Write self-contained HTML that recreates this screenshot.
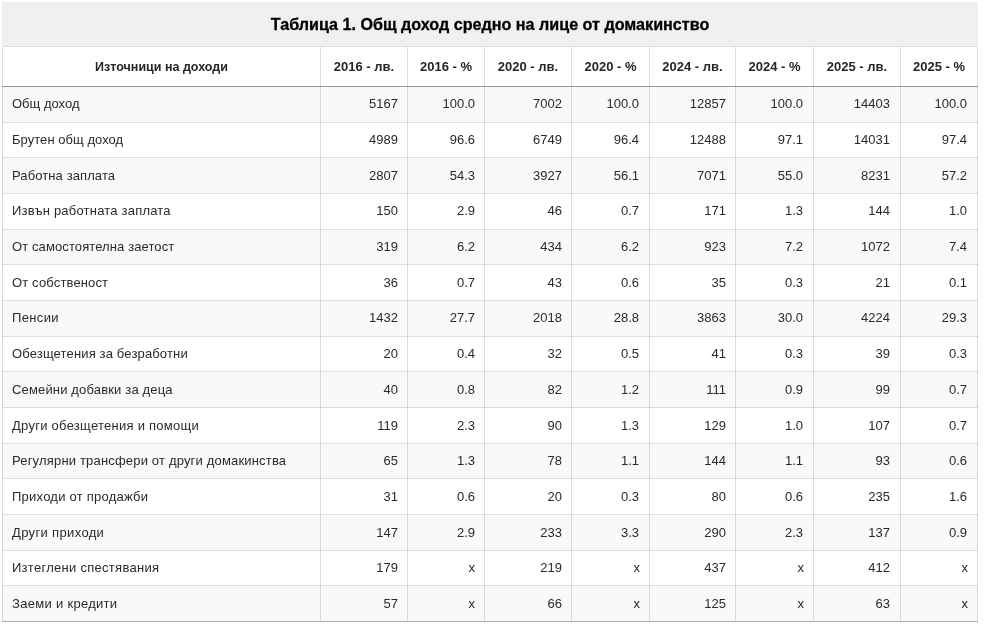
<!DOCTYPE html><html><head><meta charset="utf-8"><title>Таблица 1</title><style>
html,body{margin:0;padding:0;background:#fff;width:984px;height:626px;overflow:hidden;}
body{position:relative;font-family:"Liberation Sans",sans-serif;}
.a{position:absolute;}
.t{position:absolute;white-space:nowrap;line-height:20px;height:20px;will-change:transform;}
.b{font-size:13px;color:#2a2a2a;}
.h{font-size:13px;color:#262626;font-weight:bold;}
.ti{font-size:16.15px;color:#000000;font-weight:bold;-webkit-text-stroke:0.3px #000000;}
.r{text-align:right;}.c{text-align:center;}
</style></head><body>
<div class="a" style="left:2px;top:2px;width:976px;height:44px;background:#f0f0f0"></div>
<div class="a" style="left:2px;top:87px;width:976px;height:35px;background:#f9f9f9"></div>
<div class="a" style="left:2px;top:158px;width:976px;height:35px;background:#f9f9f9"></div>
<div class="a" style="left:2px;top:230px;width:976px;height:34px;background:#f9f9f9"></div>
<div class="a" style="left:2px;top:301px;width:976px;height:35px;background:#f9f9f9"></div>
<div class="a" style="left:2px;top:372px;width:976px;height:35px;background:#f9f9f9"></div>
<div class="a" style="left:2px;top:444px;width:976px;height:34px;background:#f9f9f9"></div>
<div class="a" style="left:2px;top:515px;width:976px;height:35px;background:#f9f9f9"></div>
<div class="a" style="left:2px;top:586px;width:976px;height:35px;background:#f9f9f9"></div>
<div class="a" style="left:2px;top:47px;width:1px;height:574px;background:rgba(0,0,0,0.133)"></div>
<div class="a" style="left:320px;top:47px;width:1px;height:574px;background:rgba(0,0,0,0.133)"></div>
<div class="a" style="left:407px;top:47px;width:1px;height:574px;background:rgba(0,0,0,0.133)"></div>
<div class="a" style="left:484px;top:47px;width:1px;height:574px;background:rgba(0,0,0,0.133)"></div>
<div class="a" style="left:571px;top:47px;width:1px;height:574px;background:rgba(0,0,0,0.133)"></div>
<div class="a" style="left:649px;top:47px;width:1px;height:574px;background:rgba(0,0,0,0.133)"></div>
<div class="a" style="left:735px;top:47px;width:1px;height:574px;background:rgba(0,0,0,0.133)"></div>
<div class="a" style="left:813px;top:47px;width:1px;height:574px;background:rgba(0,0,0,0.133)"></div>
<div class="a" style="left:900px;top:47px;width:1px;height:574px;background:rgba(0,0,0,0.133)"></div>
<div class="a" style="left:977px;top:47px;width:1px;height:574px;background:rgba(0,0,0,0.133)"></div>
<div class="a" style="left:2px;top:46px;width:976px;height:1px;background:rgba(0,0,0,0.133)"></div>
<div class="a" style="left:2px;top:86px;width:976px;height:1px;background:rgba(0,0,0,0.4)"></div>
<div class="a" style="left:2px;top:122px;width:976px;height:1px;background:rgba(0,0,0,0.133)"></div>
<div class="a" style="left:2px;top:157px;width:976px;height:1px;background:rgba(0,0,0,0.133)"></div>
<div class="a" style="left:2px;top:193px;width:976px;height:1px;background:rgba(0,0,0,0.133)"></div>
<div class="a" style="left:2px;top:229px;width:976px;height:1px;background:rgba(0,0,0,0.133)"></div>
<div class="a" style="left:2px;top:264px;width:976px;height:1px;background:rgba(0,0,0,0.133)"></div>
<div class="a" style="left:2px;top:300px;width:976px;height:1px;background:rgba(0,0,0,0.133)"></div>
<div class="a" style="left:2px;top:336px;width:976px;height:1px;background:rgba(0,0,0,0.133)"></div>
<div class="a" style="left:2px;top:371px;width:976px;height:1px;background:rgba(0,0,0,0.133)"></div>
<div class="a" style="left:2px;top:407px;width:976px;height:1px;background:rgba(0,0,0,0.133)"></div>
<div class="a" style="left:2px;top:443px;width:976px;height:1px;background:rgba(0,0,0,0.133)"></div>
<div class="a" style="left:2px;top:478px;width:976px;height:1px;background:rgba(0,0,0,0.133)"></div>
<div class="a" style="left:2px;top:514px;width:976px;height:1px;background:rgba(0,0,0,0.133)"></div>
<div class="a" style="left:2px;top:550px;width:976px;height:1px;background:rgba(0,0,0,0.133)"></div>
<div class="a" style="left:2px;top:585px;width:976px;height:1px;background:rgba(0,0,0,0.133)"></div>
<div class="a" style="left:2px;top:621px;width:976px;height:1px;background:rgba(0,0,0,0.33)"></div>
<div class="t ti c" style="left:2px;width:976px;top:14.004025000000002px;">Таблица 1. Общ доход средно на лице от домакинство</div>
<div class="t h c" style="left:3px;width:317px;top:57.2955px;"><span style="font-size:12.5px">Източници на доходи</span></div>
<div class="t h c" style="left:321px;width:86px;top:57.2955px;">2016 - лв.</div>
<div class="t h c" style="left:408px;width:76px;top:57.2955px;">2016 - %</div>
<div class="t h c" style="left:485px;width:86px;top:57.2955px;">2020 - лв.</div>
<div class="t h c" style="left:572px;width:77px;top:57.2955px;">2020 - %</div>
<div class="t h c" style="left:650px;width:85px;top:57.2955px;">2024 - лв.</div>
<div class="t h c" style="left:736px;width:77px;top:57.2955px;">2024 - %</div>
<div class="t h c" style="left:814px;width:86px;top:57.2955px;">2025 - лв.</div>
<div class="t h c" style="left:901px;width:76px;top:57.2955px;">2025 - %</div>
<div class="t b" style="left:12px;top:94.49549999999999px;"><span style="letter-spacing:0.012px">Общ доход</span></div>
<div class="t b r" style="left:321px;width:77px;top:94.49549999999999px;">5167</div>
<div class="t b r" style="left:408px;width:67px;top:94.49549999999999px;">100.0</div>
<div class="t b r" style="left:485px;width:77px;top:94.49549999999999px;">7002</div>
<div class="t b r" style="left:572px;width:67px;top:94.49549999999999px;">100.0</div>
<div class="t b r" style="left:650px;width:76px;top:94.49549999999999px;">12857</div>
<div class="t b r" style="left:736px;width:67px;top:94.49549999999999px;">100.0</div>
<div class="t b r" style="left:814px;width:76px;top:94.49549999999999px;">14403</div>
<div class="t b r" style="left:901px;width:66px;top:94.49549999999999px;">100.0</div>
<div class="t b" style="left:12px;top:130.4955px;"><span style="letter-spacing:0.047px">Брутен общ доход</span></div>
<div class="t b r" style="left:321px;width:77px;top:130.4955px;">4989</div>
<div class="t b r" style="left:408px;width:67px;top:130.4955px;">96.6</div>
<div class="t b r" style="left:485px;width:77px;top:130.4955px;">6749</div>
<div class="t b r" style="left:572px;width:67px;top:130.4955px;">96.4</div>
<div class="t b r" style="left:650px;width:76px;top:130.4955px;">12488</div>
<div class="t b r" style="left:736px;width:67px;top:130.4955px;">97.1</div>
<div class="t b r" style="left:814px;width:76px;top:130.4955px;">14031</div>
<div class="t b r" style="left:901px;width:66px;top:130.4955px;">97.4</div>
<div class="t b" style="left:12px;top:166.4955px;"><span style="letter-spacing:0.1px">Работна заплата</span></div>
<div class="t b r" style="left:321px;width:77px;top:166.4955px;">2807</div>
<div class="t b r" style="left:408px;width:67px;top:166.4955px;">54.3</div>
<div class="t b r" style="left:485px;width:77px;top:166.4955px;">3927</div>
<div class="t b r" style="left:572px;width:67px;top:166.4955px;">56.1</div>
<div class="t b r" style="left:650px;width:76px;top:166.4955px;">7071</div>
<div class="t b r" style="left:736px;width:67px;top:166.4955px;">55.0</div>
<div class="t b r" style="left:814px;width:76px;top:166.4955px;">8231</div>
<div class="t b r" style="left:901px;width:66px;top:166.4955px;">57.2</div>
<div class="t b" style="left:12px;top:201.4955px;"><span style="letter-spacing:0.205px">Извън работната заплата</span></div>
<div class="t b r" style="left:321px;width:77px;top:201.4955px;">150</div>
<div class="t b r" style="left:408px;width:67px;top:201.4955px;">2.9</div>
<div class="t b r" style="left:485px;width:77px;top:201.4955px;">46</div>
<div class="t b r" style="left:572px;width:67px;top:201.4955px;">0.7</div>
<div class="t b r" style="left:650px;width:76px;top:201.4955px;">171</div>
<div class="t b r" style="left:736px;width:67px;top:201.4955px;">1.3</div>
<div class="t b r" style="left:814px;width:76px;top:201.4955px;">144</div>
<div class="t b r" style="left:901px;width:66px;top:201.4955px;">1.0</div>
<div class="t b" style="left:12px;top:237.4955px;"><span style="letter-spacing:0.104px">От самостоятелна заетост</span></div>
<div class="t b r" style="left:321px;width:77px;top:237.4955px;">319</div>
<div class="t b r" style="left:408px;width:67px;top:237.4955px;">6.2</div>
<div class="t b r" style="left:485px;width:77px;top:237.4955px;">434</div>
<div class="t b r" style="left:572px;width:67px;top:237.4955px;">6.2</div>
<div class="t b r" style="left:650px;width:76px;top:237.4955px;">923</div>
<div class="t b r" style="left:736px;width:67px;top:237.4955px;">7.2</div>
<div class="t b r" style="left:814px;width:76px;top:237.4955px;">1072</div>
<div class="t b r" style="left:901px;width:66px;top:237.4955px;">7.4</div>
<div class="t b" style="left:12px;top:273.4955px;"><span style="letter-spacing:0.146px">От собственост</span></div>
<div class="t b r" style="left:321px;width:77px;top:273.4955px;">36</div>
<div class="t b r" style="left:408px;width:67px;top:273.4955px;">0.7</div>
<div class="t b r" style="left:485px;width:77px;top:273.4955px;">43</div>
<div class="t b r" style="left:572px;width:67px;top:273.4955px;">0.6</div>
<div class="t b r" style="left:650px;width:76px;top:273.4955px;">35</div>
<div class="t b r" style="left:736px;width:67px;top:273.4955px;">0.3</div>
<div class="t b r" style="left:814px;width:76px;top:273.4955px;">21</div>
<div class="t b r" style="left:901px;width:66px;top:273.4955px;">0.1</div>
<div class="t b" style="left:12px;top:308.4955px;"><span style="letter-spacing:0.36px">Пенсии</span></div>
<div class="t b r" style="left:321px;width:77px;top:308.4955px;">1432</div>
<div class="t b r" style="left:408px;width:67px;top:308.4955px;">27.7</div>
<div class="t b r" style="left:485px;width:77px;top:308.4955px;">2018</div>
<div class="t b r" style="left:572px;width:67px;top:308.4955px;">28.8</div>
<div class="t b r" style="left:650px;width:76px;top:308.4955px;">3863</div>
<div class="t b r" style="left:736px;width:67px;top:308.4955px;">30.0</div>
<div class="t b r" style="left:814px;width:76px;top:308.4955px;">4224</div>
<div class="t b r" style="left:901px;width:66px;top:308.4955px;">29.3</div>
<div class="t b" style="left:12px;top:344.4955px;"><span style="letter-spacing:0.15px">Обезщетения за безработни</span></div>
<div class="t b r" style="left:321px;width:77px;top:344.4955px;">20</div>
<div class="t b r" style="left:408px;width:67px;top:344.4955px;">0.4</div>
<div class="t b r" style="left:485px;width:77px;top:344.4955px;">32</div>
<div class="t b r" style="left:572px;width:67px;top:344.4955px;">0.5</div>
<div class="t b r" style="left:650px;width:76px;top:344.4955px;">41</div>
<div class="t b r" style="left:736px;width:67px;top:344.4955px;">0.3</div>
<div class="t b r" style="left:814px;width:76px;top:344.4955px;">39</div>
<div class="t b r" style="left:901px;width:66px;top:344.4955px;">0.3</div>
<div class="t b" style="left:12px;top:380.4955px;"><span style="letter-spacing:0.159px">Семейни добавки за деца</span></div>
<div class="t b r" style="left:321px;width:77px;top:380.4955px;">40</div>
<div class="t b r" style="left:408px;width:67px;top:380.4955px;">0.8</div>
<div class="t b r" style="left:485px;width:77px;top:380.4955px;">82</div>
<div class="t b r" style="left:572px;width:67px;top:380.4955px;">1.2</div>
<div class="t b r" style="left:650px;width:76px;top:380.4955px;">111</div>
<div class="t b r" style="left:736px;width:67px;top:380.4955px;">0.9</div>
<div class="t b r" style="left:814px;width:76px;top:380.4955px;">99</div>
<div class="t b r" style="left:901px;width:66px;top:380.4955px;">0.7</div>
<div class="t b" style="left:12px;top:416.4955px;"><span style="letter-spacing:0.264px">Други обезщетения и помощи</span></div>
<div class="t b r" style="left:321px;width:77px;top:416.4955px;">119</div>
<div class="t b r" style="left:408px;width:67px;top:416.4955px;">2.3</div>
<div class="t b r" style="left:485px;width:77px;top:416.4955px;">90</div>
<div class="t b r" style="left:572px;width:67px;top:416.4955px;">1.3</div>
<div class="t b r" style="left:650px;width:76px;top:416.4955px;">129</div>
<div class="t b r" style="left:736px;width:67px;top:416.4955px;">1.0</div>
<div class="t b r" style="left:814px;width:76px;top:416.4955px;">107</div>
<div class="t b r" style="left:901px;width:66px;top:416.4955px;">0.7</div>
<div class="t b" style="left:12px;top:451.4955px;"><span style="letter-spacing:0.177px">Регулярни трансфери от други домакинства</span></div>
<div class="t b r" style="left:321px;width:77px;top:451.4955px;">65</div>
<div class="t b r" style="left:408px;width:67px;top:451.4955px;">1.3</div>
<div class="t b r" style="left:485px;width:77px;top:451.4955px;">78</div>
<div class="t b r" style="left:572px;width:67px;top:451.4955px;">1.1</div>
<div class="t b r" style="left:650px;width:76px;top:451.4955px;">144</div>
<div class="t b r" style="left:736px;width:67px;top:451.4955px;">1.1</div>
<div class="t b r" style="left:814px;width:76px;top:451.4955px;">93</div>
<div class="t b r" style="left:901px;width:66px;top:451.4955px;">0.6</div>
<div class="t b" style="left:12px;top:487.4955px;"><span style="letter-spacing:0.244px">Приходи от продажби</span></div>
<div class="t b r" style="left:321px;width:77px;top:487.4955px;">31</div>
<div class="t b r" style="left:408px;width:67px;top:487.4955px;">0.6</div>
<div class="t b r" style="left:485px;width:77px;top:487.4955px;">20</div>
<div class="t b r" style="left:572px;width:67px;top:487.4955px;">0.3</div>
<div class="t b r" style="left:650px;width:76px;top:487.4955px;">80</div>
<div class="t b r" style="left:736px;width:67px;top:487.4955px;">0.6</div>
<div class="t b r" style="left:814px;width:76px;top:487.4955px;">235</div>
<div class="t b r" style="left:901px;width:66px;top:487.4955px;">1.6</div>
<div class="t b" style="left:12px;top:523.4955px;"><span style="letter-spacing:0.35px">Други приходи</span></div>
<div class="t b r" style="left:321px;width:77px;top:523.4955px;">147</div>
<div class="t b r" style="left:408px;width:67px;top:523.4955px;">2.9</div>
<div class="t b r" style="left:485px;width:77px;top:523.4955px;">233</div>
<div class="t b r" style="left:572px;width:67px;top:523.4955px;">3.3</div>
<div class="t b r" style="left:650px;width:76px;top:523.4955px;">290</div>
<div class="t b r" style="left:736px;width:67px;top:523.4955px;">2.3</div>
<div class="t b r" style="left:814px;width:76px;top:523.4955px;">137</div>
<div class="t b r" style="left:901px;width:66px;top:523.4955px;">0.9</div>
<div class="t b" style="left:12px;top:558.4955px;"><span style="letter-spacing:0.28px">Изтеглени спестявания</span></div>
<div class="t b r" style="left:321px;width:77px;top:558.4955px;">179</div>
<div class="t b r" style="left:408px;width:67px;top:558.4955px;">x</div>
<div class="t b r" style="left:485px;width:77px;top:558.4955px;">219</div>
<div class="t b r" style="left:572px;width:68px;top:558.4955px;">x</div>
<div class="t b r" style="left:650px;width:76px;top:558.4955px;">437</div>
<div class="t b r" style="left:736px;width:68px;top:558.4955px;">x</div>
<div class="t b r" style="left:814px;width:76px;top:558.4955px;">412</div>
<div class="t b r" style="left:901px;width:67px;top:558.4955px;">x</div>
<div class="t b" style="left:12px;top:594.4955px;"><span style="letter-spacing:0.3px">Заеми и кредити</span></div>
<div class="t b r" style="left:321px;width:77px;top:594.4955px;">57</div>
<div class="t b r" style="left:408px;width:67px;top:594.4955px;">x</div>
<div class="t b r" style="left:485px;width:77px;top:594.4955px;">66</div>
<div class="t b r" style="left:572px;width:68px;top:594.4955px;">x</div>
<div class="t b r" style="left:650px;width:76px;top:594.4955px;">125</div>
<div class="t b r" style="left:736px;width:68px;top:594.4955px;">x</div>
<div class="t b r" style="left:814px;width:76px;top:594.4955px;">63</div>
<div class="t b r" style="left:901px;width:67px;top:594.4955px;">x</div>
</body></html>
